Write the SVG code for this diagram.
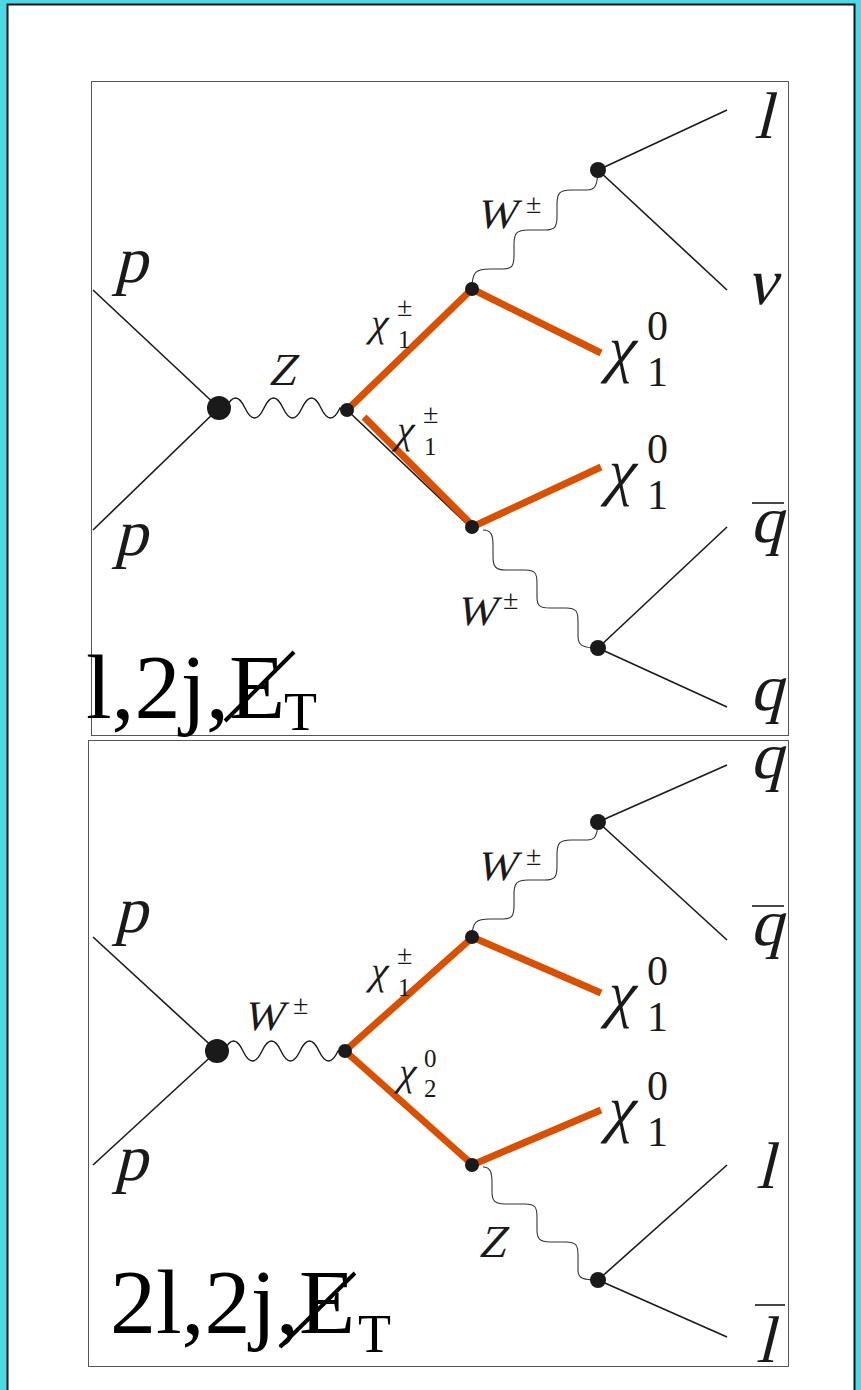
<svg xmlns="http://www.w3.org/2000/svg" width="861" height="1390" viewBox="0 0 861 1390">
<style>
.frame{fill:none;stroke:#555;stroke-width:1}
.f{stroke:#1a1a1a;stroke-width:1.6;fill:none}
.w{stroke:#1a1a1a;stroke-width:1.4;fill:none}
.wz{stroke:#333;stroke-width:1.1;fill:none}
.o{stroke:#d95000;stroke-width:7;fill:none;stroke-linecap:butt}
.dot{fill:#1a1a1a}
.lab{font-family:"Liberation Serif",serif;fill:#1a1a1a}
.big{font-size:66px}
.gbig{font-size:64px}
.mid{font-size:46px}
.wl{font-size:42px}
.gsm{font-size:40px}
.sup{font-family:"Liberation Serif",serif;fill:#1a1a1a;font-size:42px}
.ss{font-family:"Liberation Serif",serif;fill:#1a1a1a;font-size:25px}
.pm{font-family:"Liberation Serif",serif;fill:#1a1a1a;font-size:28px}
.tag{font-family:"Liberation Serif",serif;fill:#000;font-size:92px}
.sub{font-family:"Liberation Serif",serif;fill:#000;font-size:54px}
</style>
<rect x="0" y="0" width="861" height="1390" fill="#4dd8e6"/>
<rect x="7.5" y="4.5" width="847" height="1390" fill="#fff" stroke="#111" stroke-width="2"/>

<g id="panel1">
<rect class="frame" x="91.5" y="81.5" width="697" height="654"/>
<g id="connectors1">
<line class="f" x1="93" y1="290" x2="219" y2="408"/>
<line class="f" x1="93" y1="530" x2="219" y2="408"/>
<path class="w" d="M226,408 Q235.5,388 245,408 T264,408 T283,408 T302,408 T321,408 T340,408 L347,410"/>
<line class="f" x1="347" y1="410" x2="470" y2="527"/>
<line class="o" x1="347" y1="410" x2="472" y2="289"/>
<line class="o" x1="364" y1="417" x2="474" y2="527"/>
<line class="o" x1="472" y1="289" x2="601" y2="353"/>
<line class="o" x1="472" y1="527" x2="601" y2="467"/>
<path class="wz" d="M472,285 C473,272 476,269 490,269 L503,269 C512,269 514,266 514,255 L514,244 C514,233 517,230 528,230 L545,230 C555,230 557,227 557,216 L557,204 C557,193 560,190 571,190 L587,190 C595,190 597,186 598,172"/>
<path class="wz" d="M483,530 C491,530 493,535 493,545 L493,557 C493,567 496,570 506,570 L525,570 C535,570 537,573 537,583 L537,597 C537,606 540,608 550,608 L566,608 C576,608 578,611 578,621 L578,636 C578,645 582,648 598,648"/>
<line class="f" x1="598" y1="170" x2="727" y2="110"/>
<line class="f" x1="598" y1="170" x2="727" y2="290"/>
<line class="f" x1="598" y1="648" x2="727" y2="527"/>
<line class="f" x1="598" y1="648" x2="727" y2="707"/>
</g>
<g id="vertices1">
<circle class="dot" cx="219" cy="408" r="12"/>
<circle class="dot" cx="347" cy="410" r="7"/>
<circle class="dot" cx="472" cy="289" r="7"/>
<circle class="dot" cx="472" cy="527" r="7"/>
<circle class="dot" cx="598" cy="170" r="8"/>
<circle class="dot" cx="598" cy="648" r="8"/>
</g>
<g id="labels1">
<text class="lab big" transform="translate(114,282) skewX(-14)">p</text>
<text class="lab big" transform="translate(114,555) skewX(-14)">p</text>
<text class="lab mid" transform="translate(268,385) skewX(-14)">Z</text>
<text class="lab gsm" transform="translate(368,336) skewX(-14)">χ</text><text class="ss" x="398" y="348">1</text><text class="pm" x="397" y="316">±</text>
<text class="lab gsm" transform="translate(394,443) skewX(-14)">χ</text><text class="ss" x="424" y="455">1</text><text class="pm" x="423" y="423">±</text>
<text class="lab gbig" transform="translate(604,370) skewX(-14)">χ</text><text class="sup" x="647" y="386">1</text><text class="sup" x="647" y="340">0</text>
<text class="lab gbig" transform="translate(604,493) skewX(-14)">χ</text><text class="sup" x="647" y="509">1</text><text class="sup" x="647" y="463">0</text>
<text class="lab wl" transform="translate(476,228) skewX(-14)">W</text><text class="pm" x="526" y="213">±</text>
<text class="lab wl" transform="translate(456,625) skewX(-14)">W</text><text class="pm" x="503" y="609">±</text>
<text class="lab big" transform="translate(754,138) skewX(-14)">l</text>
<text class="lab big" transform="translate(746,304) skewX(-14)">ν</text>
<text class="lab big" transform="translate(750,542) skewX(-14)">q</text><line class="f" x1="752" y1="503" x2="784" y2="503"/>
<text class="lab big" transform="translate(750,710) skewX(-14)">q</text>
</g>
<g id="tag1">
<text class="tag" x="86" y="718">l,2j,E</text>
<text class="sub" x="284" y="730">T</text>
<line x1="225" y1="721" x2="294" y2="652" stroke="#000" stroke-width="4"/>
</g>
</g>

<g id="panel2">
<rect class="frame" x="88.5" y="740.5" width="700" height="626"/>
<g id="connectors2">
<line class="f" x1="93" y1="937" x2="217" y2="1051"/>
<line class="f" x1="93" y1="1165" x2="217" y2="1051"/>
<path class="w" d="M224,1051 Q233.5,1031 243,1051 T262,1051 T281,1051 T300,1051 T319,1051 T338,1051 L345,1051"/>
<line class="o" x1="345" y1="1051" x2="474" y2="936"/>
<line class="o" x1="345" y1="1051" x2="474" y2="1166"/>
<line class="o" x1="472" y1="937" x2="601" y2="993"/>
<line class="o" x1="472" y1="1165" x2="601" y2="1110"/>
<path class="wz" d="M472,935 C473,922 476,919 490,919 L503,919 C512,919 514,916 514,905 L514,894 C514,883 517,880 528,880 L545,880 C555,880 557,877 557,866 L557,854 C557,843 560,840 571,840 L587,840 C595,840 597,836 598,824"/>
<path class="wz" d="M483,1167 C490,1167 492,1172 492,1182 L492,1192 C492,1201 495,1204 505,1204 L525,1204 C535,1204 537,1207 537,1217 L537,1230 C537,1239 540,1242 550,1242 L566,1242 C576,1242 578,1245 578,1255 L578,1270 C578,1278 582,1280 598,1280"/>
<line class="f" x1="598" y1="822" x2="727" y2="765"/>
<line class="f" x1="598" y1="822" x2="727" y2="940"/>
<line class="f" x1="598" y1="1280" x2="727" y2="1165"/>
<line class="f" x1="598" y1="1280" x2="727" y2="1337"/>
</g>
<g id="vertices2">
<circle class="dot" cx="217" cy="1051" r="12"/>
<circle class="dot" cx="345" cy="1051" r="7"/>
<circle class="dot" cx="472" cy="937" r="7"/>
<circle class="dot" cx="472" cy="1165" r="7"/>
<circle class="dot" cx="598" cy="822" r="8"/>
<circle class="dot" cx="598" cy="1280" r="8"/>
</g>
<g id="labels2">
<text class="lab big" transform="translate(114,932) skewX(-14)">p</text>
<text class="lab big" transform="translate(114,1180) skewX(-14)">p</text>
<text class="lab wl" transform="translate(243,1030) skewX(-14)">W</text><text class="pm" x="293" y="1014">±</text>
<text class="lab gsm" transform="translate(368,984) skewX(-14)">χ</text><text class="ss" x="398" y="996">1</text><text class="pm" x="397" y="964">±</text>
<text class="lab gsm" transform="translate(396,1085) skewX(-14)">χ</text><text class="ss" x="424" y="1097">2</text><text class="ss" x="424" y="1067">0</text>
<text class="lab gbig" transform="translate(604,1015) skewX(-14)">χ</text><text class="sup" x="647" y="1031">1</text><text class="sup" x="647" y="985">0</text>
<text class="lab gbig" transform="translate(604,1130) skewX(-14)">χ</text><text class="sup" x="647" y="1146">1</text><text class="sup" x="647" y="1100">0</text>
<text class="lab wl" transform="translate(476,880) skewX(-14)">W</text><text class="pm" x="526" y="865">±</text>
<text class="lab mid" transform="translate(478,1257) skewX(-14)">Z</text>
<text class="lab big" transform="translate(750,778) skewX(-14)">q</text>
<text class="lab big" transform="translate(750,945) skewX(-14)">q</text><line class="f" x1="752" y1="906" x2="784" y2="906"/>
<text class="lab big" transform="translate(756,1188) skewX(-14)">l</text>
<text class="lab big" transform="translate(756,1362) skewX(-14)">l</text><line class="f" x1="755" y1="1305" x2="785" y2="1305"/>
</g>
<g id="tag2">
<text class="tag" x="110" y="1333">2l,2j,E</text>
<text class="sub" x="358" y="1352">T</text>
<line x1="280" y1="1347" x2="355" y2="1273" stroke="#000" stroke-width="4"/>
</g>
</g>
</svg>
